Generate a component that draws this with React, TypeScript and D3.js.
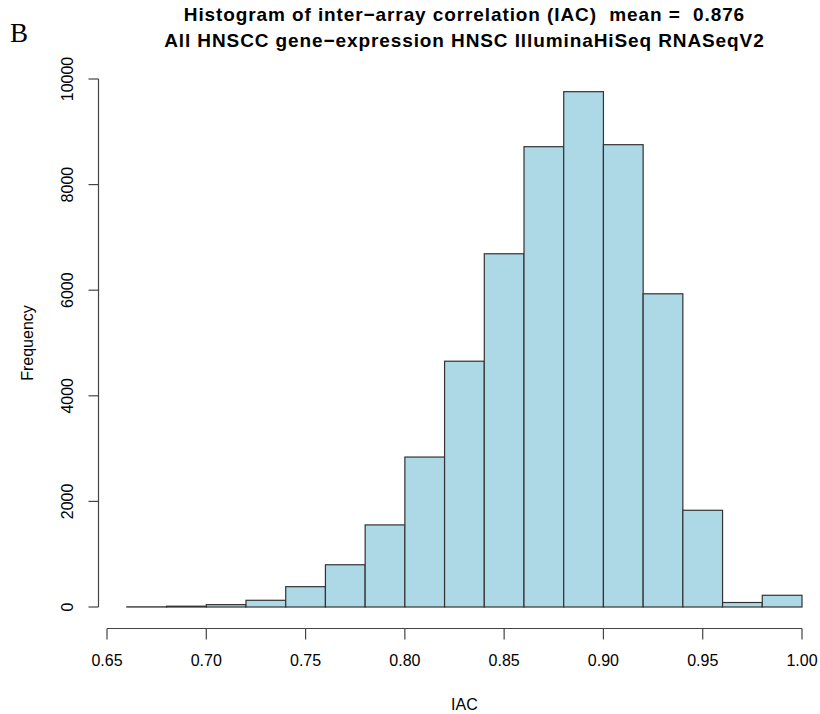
import React from "react";
import * as d3 from "d3";

const binStarts = [0.66, 0.68, 0.70, 0.72, 0.74, 0.76, 0.78, 0.80, 0.82, 0.84, 0.86, 0.88, 0.90, 0.92, 0.94, 0.96, 0.98];
const binWidth = 0.02;
const counts = [3, 15, 45, 127, 385, 800, 1555, 2840, 4655, 6690, 8718, 9760, 8756, 5932, 1832, 85, 222];
const xTicks = [0.65, 0.70, 0.75, 0.80, 0.85, 0.90, 0.95, 1.00];
const yTicks = [0, 2000, 4000, 6000, 8000, 10000];
const titleLines = [
  "Histogram of inter\u2212array correlation (IAC)  mean =  0.876",
  "All HNSCC gene\u2212expression HNSC IlluminaHiSeq RNASeqV2",
];

export default function App() {
  const W = 820, H = 714;
  const x = d3.scaleLinear().domain([0.65, 1.0]).range([107, 802]);
  const y = d3.scaleLinear().domain([0, 10000]).range([607, 79]);
  const axisY = 628.5;
  const axisX = 98.5;
  const font = "'Liberation Sans', Arial, Helvetica, sans-serif";
  const titleCx = x(0.83);
  return (
    <svg width={W} height={H} style={{ position: "absolute", left: 0, top: 0, background: "#fff" }} fontFamily={font}>
      <text x={10} y={42} fontFamily="'Liberation Serif', 'Times New Roman', serif" fontSize={27}>B</text>
      {titleLines.map((t, i) => (
        <text key={i} x={titleCx} y={21 + i * 25.5} textAnchor="middle" fontWeight="bold" fontSize={19}
          letterSpacing={0.9} style={{ whiteSpace: "pre" }}>{t}</text>
      ))}
      {binStarts.map((b, i) => (
        <rect key={i} x={x(b)} y={y(counts[i])} width={x(b + binWidth) - x(b)} height={y(0) - y(counts[i])}
          fill="#ADD8E6" stroke="#333" strokeWidth={1.2} />
      ))}
      {/* x axis */}
      <line x1={x(xTicks[0])} x2={x(xTicks[xTicks.length - 1])} y1={axisY} y2={axisY} stroke="#444" strokeWidth={1.2} />
      {xTicks.map((t, i) => (
        <g key={i}>
          <line x1={x(t)} x2={x(t)} y1={axisY} y2={axisY + 11} stroke="#444" strokeWidth={1.2} />
          <text x={x(t)} y={666} textAnchor="middle" fontSize={16}>{t.toFixed(2)}</text>
        </g>
      ))}
      <text x={titleCx} y={710} textAnchor="middle" fontSize={16}>IAC</text>
      {/* y axis */}
      <line x1={axisX} x2={axisX} y1={y(0)} y2={y(10000)} stroke="#444" strokeWidth={1.2} />
      {yTicks.map((t, i) => (
        <g key={i}>
          <line x1={axisX - 10} x2={axisX} y1={y(t)} y2={y(t)} stroke="#444" strokeWidth={1.2} />
          <text transform={`translate(${73},${y(t)}) rotate(-90)`} textAnchor="middle" fontSize={16}>{t}</text>
        </g>
      ))}
      <text transform={`translate(${33},${y(5000) + 0}) rotate(-90)`} textAnchor="middle" fontSize={16}>Frequency</text>
    </svg>
  );
}
